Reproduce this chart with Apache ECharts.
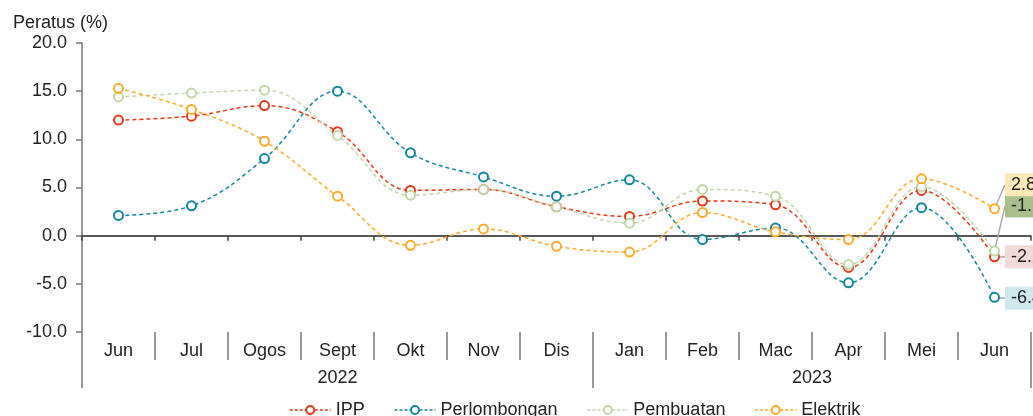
<!DOCTYPE html>
<html>
<head>
<meta charset="utf-8">
<script src="https://cdn.jsdelivr.net/npm/echarts@6/dist/echarts.min.js"></script>
<style>
  html, body { margin: 0; padding: 0; background: #fff; }
  #main { width: 1033px; height: 416px; }
</style>
</head>
<body>
<div id="main"></div>
<script>
// bulan & tahun
var months = ['Jun', 'Jul', 'Ogos', 'Sept', 'Okt', 'Nov', 'Dis', 'Jan', 'Feb', 'Mac', 'Apr', 'Mei', 'Jun'];
var years = ['2022', '2023'];
var yearSpan = [7, 6];   // bilangan bulan bagi setiap tahun

// nilai siri (%)
var ipp          = [12.0, 12.4, 13.5, 10.8, 4.7, 4.8, 3.0, 2.0, 3.6, 3.2, -3.3, 4.7, -2.2];
var perlombongan = [2.1, 3.1, 8.0, 15.0, 8.6, 6.1, 4.1, 5.8, -0.4, 0.8, -4.9, 2.9, -6.4];
var pembuatan    = [14.4, 14.8, 15.1, 10.4, 4.2, 4.8, 3.0, 1.3, 4.8, 4.1, -3.0, 5.1, -1.6];
var elektrik     = [15.3, 13.1, 9.8, 4.1, -1.0, 0.7, -1.1, -1.7, 2.4, 0.4, -0.4, 5.9, 2.8];

// sempadan & tengah tahun pada paksi nilai
var yearEdges = [0], yearMid = [];
yearSpan.forEach(function (n, i) {
    yearMid.push(yearEdges[i] + n / 2);
    yearEdges.push(yearEdges[i] + n);
});

var FONT = 'Liberation Sans, Arial, sans-serif';

function makeSeries(name, values, color, labelBg, dy) {
    var last = values.length - 1;
    return {
        name: name,
        type: 'line',
        xAxisIndex: 0,
        smooth: 0.4,
        symbol: 'emptyCircle',
        symbolSize: 9,
        lineStyle: { color: color, width: 1.5, type: [4, 3] },
        itemStyle: { color: color, borderWidth: 2 },
        data: values.map(function (v, i) {
            if (i !== last) return v;
            return {
                value: v,
                label: {
                    show: true,
                    position: 'right',
                    distance: 5,
                    formatter: function (p) { return p.value.toFixed(1); },
                    fontFamily: FONT,
                    fontSize: 18,
                    color: '#222',
                    backgroundColor: labelBg,
                    padding: [3, 6, 2, 6]
                }
            };
        }),
        labelLayout: { dy: dy },
        labelLine: { show: true, smooth: false, lineStyle: { color: '#aaa', width: 1.5 } },
        animation: false
    };
}

var chart = echarts.init(document.getElementById('main'));
var option = {
    animation: false,
    textStyle: { fontFamily: FONT },
    title: {
        text: 'Peratus (%)',
        left: 8,
        top: 9,
        textStyle: { fontFamily: FONT, fontSize: 18, fontWeight: 'normal', color: '#222' }
    },
    legend: {
        left: 284,
        top: 396,
        itemWidth: 41,
        itemHeight: 10,
        itemGap: 29,
        lineStyle: { type: [3, 2], width: 1.5 },
        textStyle: { fontFamily: FONT, fontSize: 18, color: '#222' },
        data: ['IPP', 'Perlombongan', 'Pembuatan', 'Elektrik']
    },
    grid: { left: 82, right: 2, top: 43, bottom: 84, containLabel: false },
    xAxis: [
        {
            // garisan sifar
            type: 'category',
            data: months,
            boundaryGap: true,
            axisLine: { onZero: true, lineStyle: { color: '#222', width: 1.5 } },
            axisTick: { show: true, interval: 0, length: 5, lineStyle: { color: '#444', width: 1.5 } },
            axisLabel: { show: false },
            splitLine: { show: false }
        },
        {
            // label bulan
            type: 'category',
            data: months,
            position: 'bottom',
            boundaryGap: true,
            axisLine: { show: false, onZero: false },
            axisTick: { show: true, interval: 0, length: 28, lineStyle: { color: '#777', width: 1.5 } },
            axisLabel: { interval: 0, margin: 10, fontSize: 18, color: '#222', fontFamily: FONT },
            splitLine: { show: false }
        },
        {
            // label tahun
            type: 'value',
            min: 0,
            max: yearEdges[yearEdges.length - 1],
            position: 'bottom',
            axisLine: { show: false, onZero: false },
            axisTick: { show: true, customValues: yearEdges, length: 56, lineStyle: { color: '#777', width: 1.5 } },
            axisLabel: {
                customValues: yearMid,
                margin: 37,
                fontSize: 18,
                color: '#222',
                fontFamily: FONT,
                formatter: function (v) { return years[yearMid.indexOf(v)]; }
            },
            splitLine: { show: false }
        }
    ],
    yAxis: {
        type: 'value',
        min: -10,
        max: 20,
        interval: 5,
        axisLine: { show: true, lineStyle: { color: '#777', width: 1.5 } },
        axisTick: { show: true, length: 6, lineStyle: { color: '#777', width: 1.5 } },
        axisLabel: {
            margin: 15,
            fontSize: 18,
            color: '#222',
            fontFamily: FONT,
            formatter: function (v) { return v.toFixed(1); }
        },
        splitLine: { show: false }
    },
    series: [
        makeSeries('IPP', ipp, '#e8391d', '#f2d8d6', 0),
        makeSeries('Perlombongan', perlombongan, '#14879a', '#cfe8ee', 1),
        makeSeries('Pembuatan', pembuatan, '#c3d6a7', '#a9c08c', -45),
        makeSeries('Elektrik', elektrik, '#fbab2d', '#fde9b8', -24)
    ]
};
chart.setOption(option);
</script>
</body>
</html>
